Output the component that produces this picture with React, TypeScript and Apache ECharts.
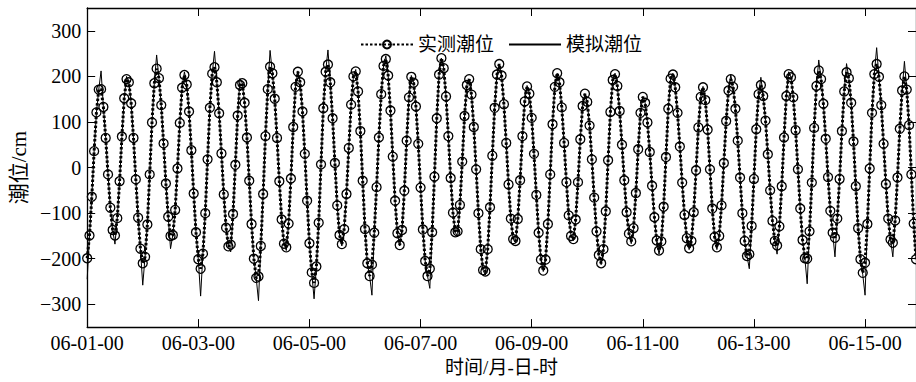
import React, { useEffect, useRef } from "react";
import * as echarts from "echarts";

// time axis: hourly samples starting 06-01-00
const month = "06";
const startDay = 1;
const xMaxHour = 358;
const xTickHours = [0, 48, 96, 144, 192, 240, 288, 336];
const yTickValues = [-300, -200, -100, 0, 100, 200, 300];
const yMin = -350;
const yMax = 350;
const seriesNames = ["实测潮位", "模拟潮位"];

// observed tide level (cm), one value per hour
const observed = [
  -199, -149, -64, 36, 121, 171, 172, 133, 65, -15, -88, -137,
  -149, -111, -30, 68, 152, 194, 187, 141, 65, -26, -110, -178,
  -210, -196, -125, -15, 99, 185, 217, 196, 137, 53, -35, -108,
  -150, -148, -93, -2, 98, 175, 203, 182, 123, 38, -57, -142,
  -201, -222, -189, -100, 18, 131, 206, 220, 187, 119, 31, -59,
  -132, -173, -169, -102, 6, 114, 181, 185, 142, 66, -29, -124,
  -200, -242, -239, -172, -58, 69, 172, 221, 207, 151, 65, -30,
  -114, -167, -175, -123, -24, 89, 177, 210, 187, 123, 30, -73,
  -166, -230, -253, -217, -121, 7, 130, 210, 226, 187, 108, 10,
  -83, -148, -168, -135, -58, 43, 138, 200, 211, 167, 80, -29,
  -135, -210, -238, -213, -143, -43, 66, 161, 223, 238, 202, 125,
  24, -73, -144, -170, -137, -51, 59, 154, 199, 186, 134, 52,
  -44, -136, -205, -238, -222, -142, -20, 108, 204, 240, 218, 156,
  69, -23, -99, -142, -140, -82, 13, 113, 181, 194, 160, 89,
  -4, -100, -179, -225, -228, -179, -87, 26, 131, 204, 227, 202,
  139, 54, -37, -112, -157, -161, -113, -28, 69, 145, 178, 162,
  109, 30, -60, -143, -202, -226, -202, -124, -15, 95, 177, 207,
  187, 132, 54, -32, -105, -150, -157, -114, -32, 62, 135, 162,
  144, 92, 18, -66, -140, -192, -210, -179, -96, 16, 122, 192,
  205, 179, 124, 50, -28, -98, -145, -162, -133, -56, 40, 120,
  155, 142, 99, 34, -40, -109, -160, -182, -162, -86, 23, 129,
  195, 204, 176, 120, 46, -33, -104, -155, -177, -161, -98, -6,
  88, 155, 176, 148, 83, -4, -90, -152, -175, -150, -83, 10,
  102, 169, 194, 177, 129, 59, -22, -100, -161, -194, -190, -128,
  -25, 84, 161, 181, 157, 103, 29, -50, -117, -161, -171, -129,
  -41, 66, 157, 205, 198, 154, 82, -4, -90, -159, -199, -200,
  -140, -33, 87, 179, 213, 194, 140, 63, -21, -95, -143, -154,
  -112, -25, 80, 167, 209, 196, 142, 57, -41, -133, -201, -231,
  -209, -124, -2, 120, 205, 227, 199, 137, 52, -36, -112, -158,
  -165, -116, -22, 85, 169, 200, 171, 93, -15, -123, -201,
];

// simulated tide level (cm), one value per hour
const simulated = [
  -245, -149, -64, 36, 121, 171, 212, 133, 65, -15, -88, -137,
  -168, -111, -30, 68, 152, 200, 187, 141, 65, -26, -110, -178,
  -258, -196, -125, -15, 99, 185, 247, 196, 137, 53, -35, -108,
  -178, -148, -93, -2, 98, 175, 210, 182, 123, 38, -57, -142,
  -201, -282, -189, -100, 18, 131, 206, 255, 187, 119, 31, -59,
  -132, -173, -185, -102, 6, 114, 195, 185, 142, 66, -29, -124,
  -200, -242, -292, -172, -58, 69, 172, 257, 207, 151, 65, -30,
  -114, -167, -182, -123, -24, 89, 177, 212, 187, 123, 30, -73,
  -166, -230, -288, -217, -121, 7, 130, 210, 258, 187, 108, 10,
  -83, -148, -172, -135, -58, 43, 138, 200, 215, 167, 80, -29,
  -135, -210, -238, -280, -143, -43, 66, 161, 223, 245, 202, 125,
  24, -73, -144, -172, -137, -51, 59, 154, 202, 186, 134, 52,
  -44, -136, -205, -238, -265, -142, -20, 108, 204, 240, 218, 156,
  69, -23, -99, -142, -152, -82, 13, 113, 181, 194, 160, 89,
  -4, -100, -179, -225, -236, -179, -87, 26, 131, 204, 227, 202,
  139, 54, -37, -112, -157, -165, -113, -28, 69, 145, 180, 162,
  109, 30, -60, -143, -202, -228, -202, -124, -15, 95, 177, 207,
  187, 132, 54, -32, -105, -150, -160, -114, -32, 62, 135, 162,
  144, 92, 18, -66, -140, -192, -213, -179, -96, 16, 122, 192,
  207, 179, 124, 50, -28, -98, -145, -167, -133, -56, 40, 120,
  156, 142, 99, 34, -40, -109, -160, -190, -162, -86, 23, 129,
  195, 207, 176, 120, 46, -33, -104, -155, -180, -161, -98, -6,
  88, 155, 178, 148, 83, -4, -90, -152, -180, -150, -83, 10,
  102, 169, 203, 177, 129, 59, -22, -100, -161, -194, -222, -128,
  -25, 84, 161, 198, 157, 103, 29, -50, -117, -161, -190, -129,
  -41, 66, 157, 210, 198, 154, 82, -4, -90, -159, -199, -255,
  -140, -33, 87, 179, 236, 194, 140, 63, -21, -95, -143, -196,
  -112, -25, 80, 167, 228, 196, 142, 57, -41, -133, -201, -235,
  -280, -124, -2, 120, 205, 263, 199, 137, 52, -36, -112, -158,
  -196, -116, -22, 85, 169, 233, 171, 93, -15, -123, -201,
];

const FONT = "Liberation Serif, Noto Sans CJK SC, serif";
const pad = (n: number) => (n < 10 ? "0" + n : String(n));
const fmtX = (h: number) =>
  `${month}-${pad(startDay + Math.floor(h / 24))}-${pad(h % 24)}`;
const fmtY = (v: number) => (v < 0 ? "\u2212" + Math.abs(v) : String(v));

export default function App() {
  const ref = useRef<HTMLDivElement>(null);
  useEffect(() => {
    document.body.style.margin = "0";
    const chart = echarts.init(ref.current!, undefined, { renderer: "svg" });
    const axisLine = { show: true, onZero: false, lineStyle: { color: "#000", width: 1.3 } };
    const tickStyle = { color: "#000", width: 1 };
    chart.setOption({
      animation: false,
      backgroundColor: "#fff",
      textStyle: { fontFamily: FONT },
      grid: { left: 84, right: -1, top: 8, bottom: 54 },
      legend: {
        left: 355,
        top: 30,
        itemWidth: 52,
        itemHeight: 10,
        itemGap: 14,
        data: [
          { name: seriesNames[0] },
          { name: seriesNames[1], itemStyle: { opacity: 0 } },
        ],
        textStyle: { fontFamily: FONT, fontSize: 19, color: "#000" },
      },
      xAxis: [
        {
          type: "value",
          min: 0,
          max: xMaxHour,
          position: "bottom",
          axisLine,
          axisTick: { inside: true, length: 8, customValues: xTickHours, lineStyle: tickStyle },
          axisLabel: {
            customValues: xTickHours,
            formatter: fmtX,
            fontFamily: FONT,
            fontSize: 20,
            color: "#000",
            margin: 6,
          },
          splitLine: { show: false },
          name: "时间/月-日-时",
          nameLocation: "middle",
          nameGap: 27,
          nameTextStyle: { fontFamily: FONT, fontSize: 19, color: "#000" },
        },
        {
          type: "value",
          min: 0,
          max: xMaxHour,
          position: "top",
          axisLine,
          axisTick: { inside: true, length: 8, customValues: xTickHours, lineStyle: tickStyle },
          axisLabel: { show: false },
          splitLine: { show: false },
        },
      ],
      yAxis: [
        {
          type: "value",
          min: yMin,
          max: yMax,
          position: "left",
          axisLine,
          axisTick: { inside: true, length: 8, customValues: yTickValues, lineStyle: tickStyle },
          axisLabel: {
            customValues: yTickValues,
            formatter: fmtY,
            fontFamily: FONT,
            fontSize: 20,
            color: "#000",
            margin: 6,
          },
          splitLine: { show: false },
          name: "潮位/cm",
          nameLocation: "middle",
          nameGap: 54,
          nameRotate: 90,
          nameTextStyle: { fontFamily: FONT, fontSize: 21, color: "#000" },
        },
        {
          type: "value",
          min: yMin,
          max: yMax,
          position: "right",
          axisLine,
          axisTick: { inside: true, length: 8, customValues: yTickValues, lineStyle: tickStyle },
          axisLabel: { show: false },
          splitLine: { show: false },
        },
      ],
      series: [
        {
          name: seriesNames[1],
          type: "line",
          xAxisIndex: 0,
          yAxisIndex: 0,
          data: simulated.map((v, i) => [i, v]),
          symbol: "none",
          lineStyle: { color: "#000", width: 1 },
          itemStyle: { color: "#000" },
          z: 2,
        },
        {
          name: seriesNames[0],
          type: "line",
          xAxisIndex: 0,
          yAxisIndex: 0,
          data: observed.map((v, i) => [i, v]),
          symbol: "circle",
          symbolSize: 9,
          itemStyle: { color: "rgba(0,0,0,0)", borderColor: "#000", borderWidth: 1.3 },
          lineStyle: { color: "#000", width: 3, type: [2.5, 2] },
          z: 3,
        },
      ],
    });
    return () => chart.dispose();
  }, []);
  return (
    <div
      ref={ref}
      style={{ position: "absolute", left: 0, top: 0, width: 916, height: 382 }}
    />
  );
}
